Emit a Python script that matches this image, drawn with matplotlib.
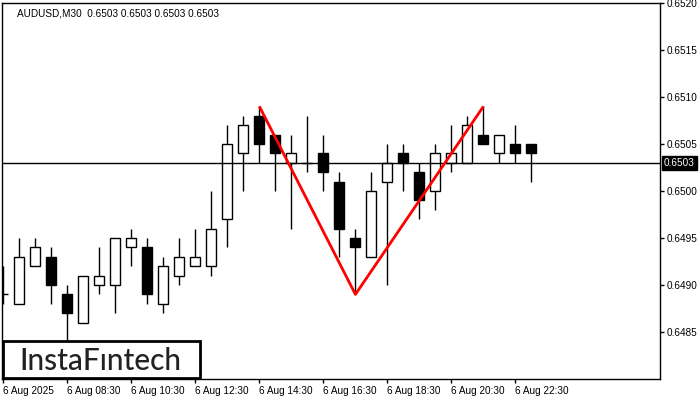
"""
AUDUSD M30 candlestick chart with a double-top pattern overlay.
"""

import matplotlib
matplotlib.use("Agg")
import matplotlib.pyplot as plt
from matplotlib.patches import Rectangle


# ──────────────────────────────────────────────────────────────────────
#  Data
# ──────────────────────────────────────────────────────────────────────

times = ["06:30", "07:00", "07:30", "08:00", "08:30", "09:00", "09:30", "10:00",
         "10:30", "11:00", "11:30", "12:00", "12:30", "13:00", "13:30", "14:00",
         "14:30", "15:00", "15:30", "16:00", "16:30", "17:00", "17:30", "18:00",
         "18:30", "19:00", "19:30", "20:00", "20:30", "21:00", "21:30", "22:00",
         "22:30", "23:00"]

opens = [0.6489, 0.6488, 0.6492, 0.6493, 0.6489, 0.6486, 0.6490, 0.6490,
         0.6494, 0.6494, 0.6488, 0.6491, 0.6492, 0.6492, 0.6497, 0.6504,
         0.6508, 0.6506, 0.6503, 0.6503, 0.6504, 0.6501, 0.6495, 0.6493,
         0.6501, 0.6504, 0.6502, 0.6500, 0.6503, 0.6503, 0.6506, 0.6504,
         0.6505, 0.6505]
highs = [0.6492, 0.6495, 0.6495, 0.6494, 0.6490, 0.6491, 0.6494, 0.6495,
         0.6496, 0.6495, 0.6493, 0.6495, 0.6496, 0.6500, 0.6507, 0.6508,
         0.6509, 0.6506, 0.6506, 0.6508, 0.6506, 0.6502, 0.6496, 0.6502,
         0.6505, 0.6505, 0.6503, 0.6505, 0.6507, 0.6508, 0.6509, 0.6506,
         0.6507, 0.6505]
lows = [0.6488, 0.6488, 0.6492, 0.6488, 0.6484, 0.6486, 0.6489, 0.6487,
        0.6492, 0.6488, 0.6487, 0.6490, 0.6492, 0.6491, 0.6494, 0.6500,
        0.6503, 0.6500, 0.6496, 0.6502, 0.6500, 0.6493, 0.6489, 0.6493,
        0.6490, 0.6500, 0.6497, 0.6498, 0.6502, 0.6503, 0.6505, 0.6503,
        0.6503, 0.6501]
closes = [0.6489, 0.6493, 0.6494, 0.6490, 0.6487, 0.6491, 0.6491, 0.6495,
          0.6495, 0.6489, 0.6492, 0.6493, 0.6493, 0.6496, 0.6505, 0.6507,
          0.6505, 0.6504, 0.6504, 0.6503, 0.6502, 0.6496, 0.6494, 0.6500,
          0.6503, 0.6503, 0.6499, 0.6504, 0.6504, 0.6507, 0.6505, 0.6506,
          0.6504, 0.6504]

# double top pattern: peak, trough, peak
pattern_times = ["14:30", "17:30", "21:30"]
pattern_prices = [0.6509, 0.6489, 0.6509]

last_price = 0.6503
title = "AUDUSD,M30  0.6503 0.6503 0.6503 0.6503"

price_ticks = [0.6485, 0.6490, 0.6495, 0.6500, 0.6505, 0.6510, 0.6515, 0.6520]
time_ticks = ["06:30", "08:30", "10:30", "12:30", "14:30", "16:30", "18:30",
              "20:30", "22:30"]
time_tick_labels = ["6 Aug 2025", "6 Aug 08:30", "6 Aug 10:30", "6 Aug 12:30",
                    "6 Aug 14:30", "6 Aug 16:30", "6 Aug 18:30", "6 Aug 20:30",
                    "6 Aug 22:30"]


# ──────────────────────────────────────────────────────────────────────
#  Figure
# ──────────────────────────────────────────────────────────────────────

plt.rcParams["font.family"] = ["Liberation Sans", "DejaVu Sans"]
FS = 7.2

fig = plt.figure(figsize=(7, 4), dpi=100)
ax = fig.add_axes([0.003, 0.0525, 0.940, 0.940])

idx = {t: i for i, t in enumerate(times)}
xs = list(range(len(times)))

# wicks
ax.vlines(xs, lows, highs, color="black", linewidth=1.0, zorder=2)

# bodies
for x, o, c in zip(xs, opens, closes):
    lo, hi = min(o, c), max(o, c)
    face = "white" if c >= o else "black"
    ax.bar(x, hi - lo, bottom=lo, width=0.62, facecolor=face,
           edgecolor="black", linewidth=1.0, zorder=3)

# current price line
ax.axhline(last_price, color="black", linewidth=1.0, zorder=4)

# pattern
ax.plot([idx[t] for t in pattern_times], pattern_prices, color="#ff0000",
        linewidth=2.0, zorder=5, solid_capstyle="butt")

ax.set_xlim(-0.08, 41.04)
ax.set_ylim(0.648, 0.652)

for side in ["left", "right", "top", "bottom"]:
    ax.spines[side].set_linewidth(1.0)

ax.yaxis.tick_right()
ax.set_yticks(price_ticks)
ax.set_yticklabels([f"{p:.4f}" for p in price_ticks])
ax.tick_params(axis="y", length=3, width=1, pad=2, labelsize=FS)

ax.set_xticks([idx[t] for t in time_ticks])
ax.set_xticklabels(time_tick_labels, ha="left")
ax.tick_params(axis="x", length=3, width=1, pad=2, labelsize=FS)

# price label box
ax.text(1.006, last_price, f"{last_price:.4f}", transform=ax.get_yaxis_transform(),
        ha="left", va="center", fontsize=FS, color="white",
        bbox=dict(boxstyle="square,pad=0.2", facecolor="black", edgecolor="black"),
        zorder=6, clip_on=False)

# title
ax.text(0.023, 0.985, title, transform=ax.transAxes, ha="left", va="top",
        fontsize=FS, color="black")

# logo
ax.add_patch(Rectangle((0.001, 0.002), 0.300, 0.099, transform=ax.transAxes,
                       facecolor="white", edgecolor="black", linewidth=2.0,
                       zorder=8, clip_on=False))
ax.text(0.150, 0.048, "InstaF\u0131ntech", transform=ax.transAxes,
        ha="center", va="center", fontsize=21.5, color="#222222",
        family=["Lato", "DejaVu Sans"], fontweight="medium", zorder=9)

fig.savefig("out.png", dpi=100)
